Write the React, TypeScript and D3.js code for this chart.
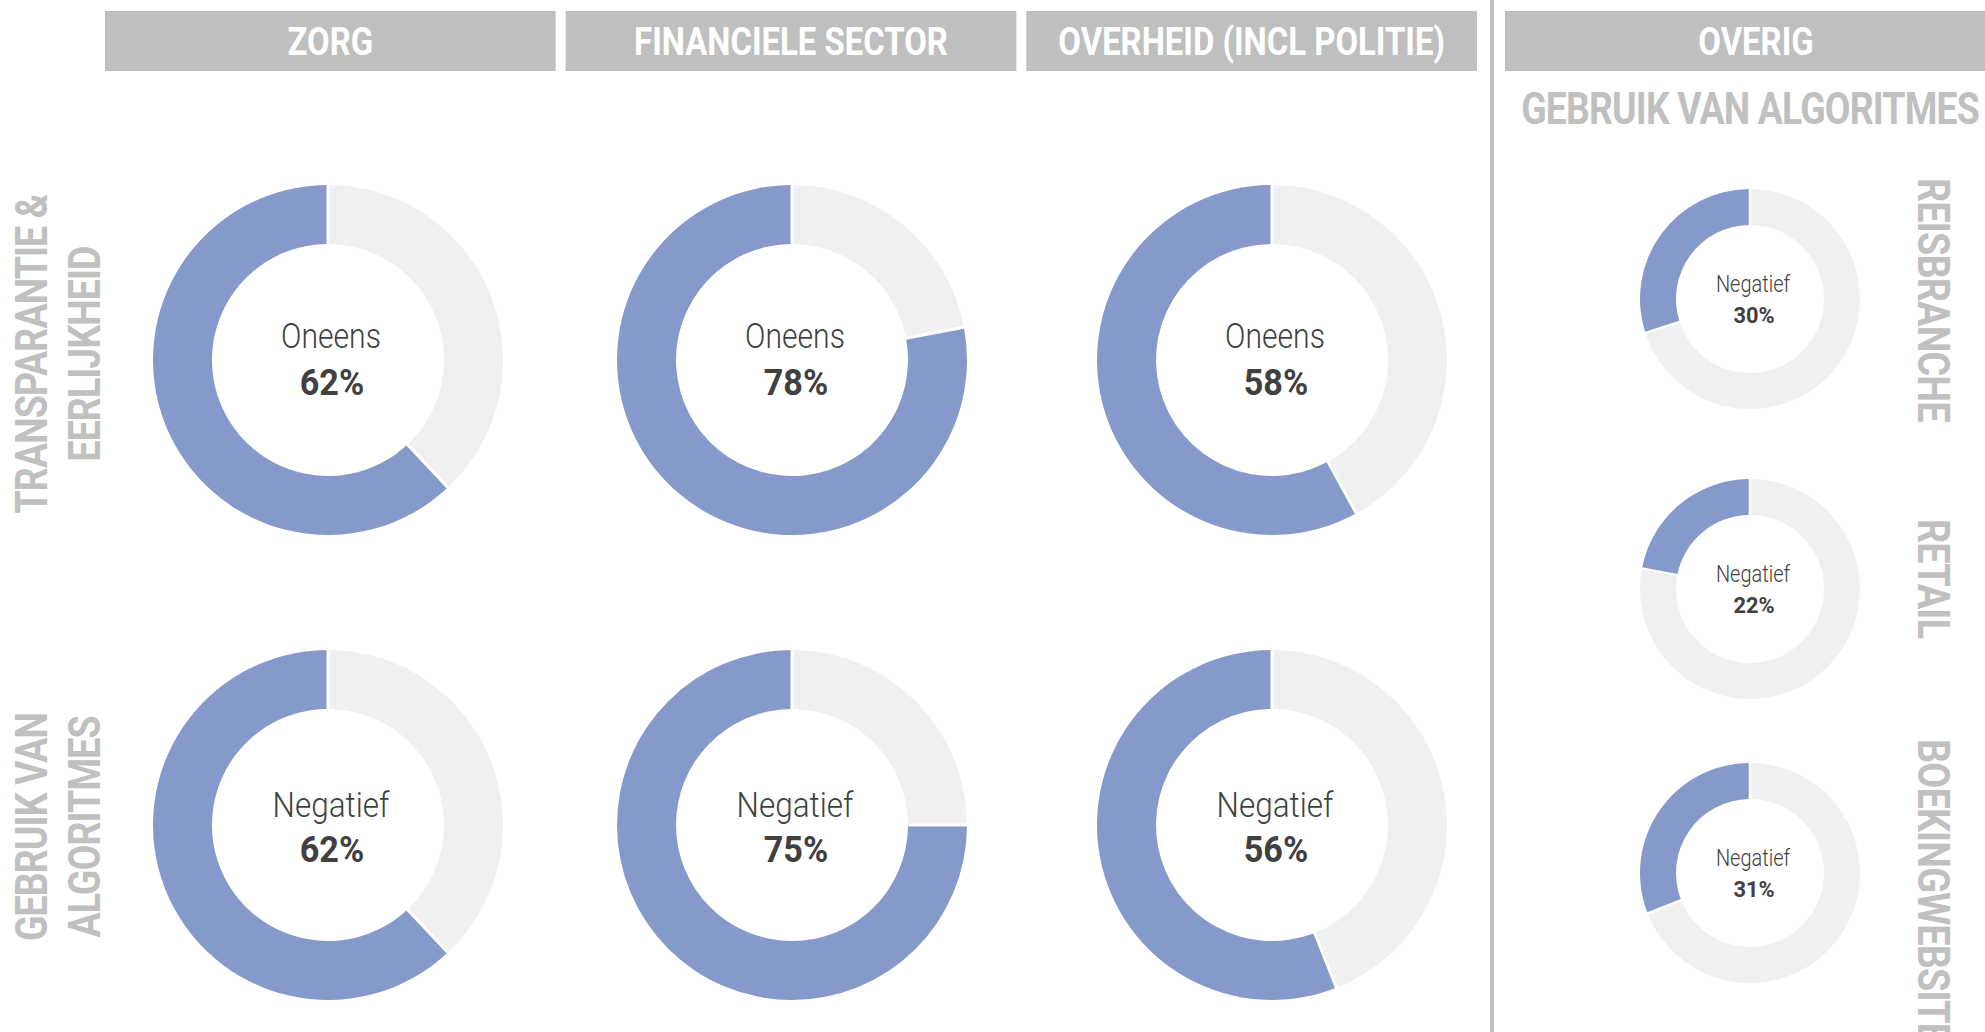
import React from "react";
import * as d3 from "d3";

// ---------- data ----------
const sectors = ["ZORG", "FINANCIELE SECTOR", "OVERHEID (INCL POLITIE)"];
const themes = ["transparantie", "algoritmes"];
const themeLabels = [
  ["TRANSPARANTIE &", "EERLIJKHEID"],
  ["GEBRUIK VAN", "ALGORITMES"],
];
const themeAnswers = ["Oneens", "Negatief"];
const transparantieValues = [62, 78, 58];
const algoritmesValues = [62, 75, 56];

const overigTitle = "OVERIG";
const overigSubtitle = "GEBRUIK VAN ALGORITMES";
const overigCategories = ["REISBRANCHE", "RETAIL", "BOEKINGWEBSITES"];
const overigAnswer = "Negatief";
const overigValues = [30, 22, 31];

// ---------- style ----------
const W = 1985;
const H = 1032;
const BLUE = "#8599ca";
const REST = "#f0f0f0";
const HEAD = "#bfbfbf";
const LABEL = "#c0c0c0";
const TEXT = "#404040";
const FONT = "Roboto, 'Liberation Sans', sans-serif";

const colX = d3.scaleOrdinal<string, number>().domain(sectors).range([328, 792, 1272]);
const headBand = d3.scaleBand<string>().domain(sectors).range([105, 1477]).paddingInner(0.0217);
const rowY = d3.scaleOrdinal<string, number>().domain(themes).range([360, 825]);
const rowLabelY = d3.scaleOrdinal<string, number>().domain(themes).range([354, 827]);
const overigY = d3.scaleOrdinal<string, number>().domain(overigCategories).range([299, 589, 873]);
const overigLabelStart = d3.scaleOrdinal<string, number>().domain(overigCategories).range([178, 519, 739]);
const OVERIG_X = 1750;

const pie = d3.pie<number>().sort(null).value((d) => d);

function Donut({ cx, cy, value, outer, inner, pad, label, labelSize, pctSize, labelDy, pctDy, sx, psx }: any) {
  const arcs = pie([100 - value, value]);
  const arc = d3.arc<d3.PieArcDatum<number>>().innerRadius(inner).outerRadius(outer).padAngle(pad / outer).padRadius(outer);
  return (
    <g>
      {arcs.map((a, i) => (
        <path key={i} d={arc(a) || ""} transform={`translate(${cx},${cy})`} fill={i === 1 ? BLUE : REST} />
      ))}
      <text
        transform={`translate(${cx + 3},${cy + labelDy}) scale(${sx},1)`}
        textAnchor="middle"
        fontFamily={FONT}
        fontWeight={300}
        fontSize={labelSize}
        fill={TEXT}
      >
        {label}
      </text>
      <text
        transform={`translate(${cx + 4},${cy + pctDy}) scale(${psx},1)`}
        textAnchor="middle"
        fontFamily={FONT}
        fontWeight={700}
        fontSize={pctSize}
        fill={TEXT}
      >
        {`${value}%`}
      </text>
    </g>
  );
}

export default function App() {
  const valuesByTheme = [transparantieValues, algoritmesValues];
  return (
    <svg width={W} height={H} style={{ position: "absolute", left: 0, top: 0, background: "#fff" }}>
      <rect width={W} height={H} fill="#fff" />
      {/* headers */}
      {sectors.map((s) => (
        <g key={s}>
          <rect x={headBand(s)} y={11} width={headBand.bandwidth()} height={60} fill={HEAD} />
          <text
            transform={`translate(${(headBand(s) as number) + headBand.bandwidth() / 2},55) scale(0.865,1)`}
            textAnchor="middle"
            fontFamily={FONT}
            fontWeight={700}
            fontSize={38}
            fill="#fff"
          >
            {s}
          </text>
        </g>
      ))}
      {/* separator */}
      <rect x={1490} y={0} width={4} height={H} fill={HEAD} />
      {/* overig header */}
      <rect x={1505} y={11} width={502} height={60} fill={HEAD} />
      <text
        transform={`translate(1756,55) scale(0.865,1)`}
        textAnchor="middle"
        fontFamily={FONT}
        fontWeight={700}
        fontSize={38}
        fill="#fff"
      >
        {overigTitle}
      </text>
      <text
        transform={`translate(${OVERIG_X},124) scale(0.83,1)`}
        textAnchor="middle"
        fontFamily={FONT}
        fontWeight={700}
        fontSize={45}
        fill={LABEL}
        letterSpacing={-1}
      >
        {overigSubtitle}
      </text>
      {/* row labels */}
      {themes.map((t, ti) => (
        <g key={t}>
          {themeLabels[ti].map((line, li) => (
            <text
              key={line}
              transform={`translate(${47 + li * 53},${rowLabelY(t)}) rotate(-90) scale(0.83,1)`}
              textAnchor="middle"
              fontFamily={FONT}
              fontWeight={700}
              fontSize={45}
              fill={LABEL}
              letterSpacing={-1}
            >
              {line}
            </text>
          ))}
          {sectors.map((s, si) => (
            <Donut
              key={s}
              cx={colX(s)}
              cy={rowY(t)}
              value={valuesByTheme[ti][si]}
              outer={175}
              inner={116}
              pad={3}
              label={themeAnswers[ti]}
              labelSize={35}
              pctSize={36}
              labelDy={ti === 0 ? -12 : -8}
              pctDy={ti === 0 ? 35 : 37}
              sx={ti === 0 ? 0.86 : 0.9}
              psx={0.95}
            />
          ))}
        </g>
      ))}
      {/* overig donuts */}
      {overigCategories.map((c, i) => (
        <g key={c}>
          <Donut
            cx={OVERIG_X}
            cy={overigY(c)}
            value={overigValues[i]}
            outer={110}
            inner={74}
            pad={2.5}
            label={overigAnswer}
            labelSize={23.5}
            pctSize={22.5}
            labelDy={-7}
            pctDy={24}
            sx={0.85}
            psx={0.97}
          />
          <text
            transform={`translate(1918,${overigLabelStart(c)}) rotate(90) scale(0.84,1)`}
            textAnchor="start"
            fontFamily={FONT}
            fontWeight={700}
            fontSize={45}
            fill={LABEL}
            letterSpacing={-1}
          >
            {c}
          </text>
        </g>
      ))}
    </svg>
  );
}
